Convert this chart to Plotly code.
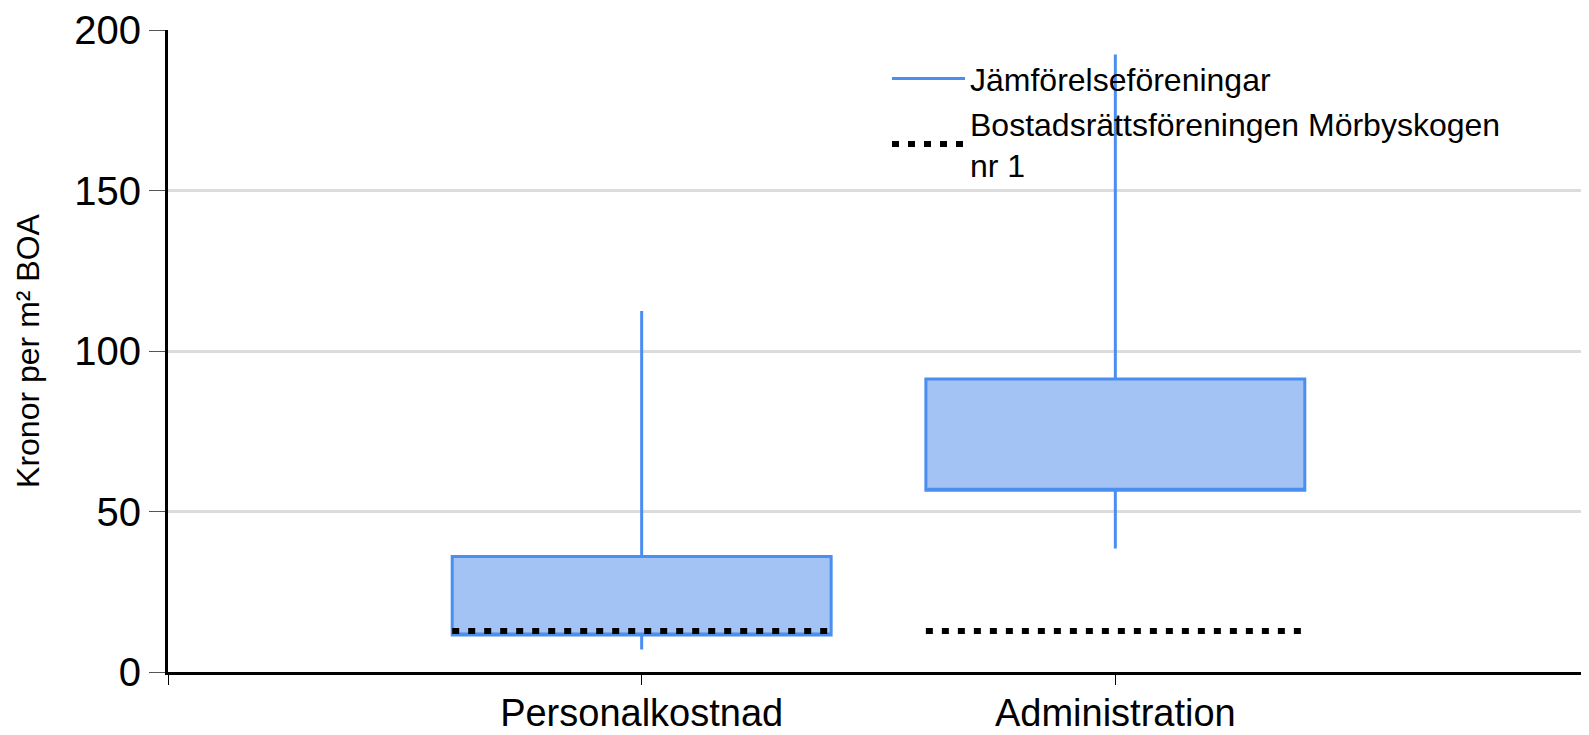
import plotly.graph_objects as go

categories = ["Personalkostnad", "Administration"]
lower_whisker = [7.0, 38.5]
q1_values = [11.5, 56.6]
q3_values = [36.0, 91.3]
upper_whisker = [112.5, 192.4]
association_values = [12.8, 12.8]

series_compare = "Jämförelseföreningar"
series_assoc = "Bostadsrättsföreningen Mörbyskogen<br>nr 1"
y_title = "Kronor per m² BOA"
y_ticks = [0, 50, 100, 150, 200]

BOX_WIDTH = 0.8
BLUE = "#4a8ef0"
FILL = "#a3c3f4"
FONT = "Liberation Sans, Arial, sans-serif"

positions = list(range(len(categories)))

fig = go.Figure()

fig.add_trace(go.Box(
    x=positions,
    q1=q1_values,
    median=q1_values,
    q3=q3_values,
    lowerfence=lower_whisker,
    upperfence=upper_whisker,
    width=BOX_WIDTH,
    whiskerwidth=0,
    line=dict(color=BLUE, width=3),
    fillcolor=FILL,
    showlegend=False,
    hoverinfo="skip",
))

# association line across each box
for p, v in zip(positions, association_values):
    fig.add_trace(go.Scatter(
        x=[p - BOX_WIDTH / 2, p + BOX_WIDTH / 2],
        y=[v, v],
        mode="lines",
        line=dict(color="black", width=6, dash="7px,9px"),
        showlegend=False,
        hoverinfo="skip",
    ))

# legend entries
fig.add_trace(go.Scatter(
    x=[None], y=[None], mode="lines",
    line=dict(color=BLUE, width=3),
    name=series_compare,
))
fig.add_trace(go.Scatter(
    x=[None], y=[None], mode="lines",
    line=dict(color="black", width=6, dash="7px,9px"),
    name=series_assoc,
))

fig.update_layout(
    width=1581, height=727,
    margin=dict(l=160, r=0, t=22, b=63),
    paper_bgcolor="white",
    plot_bgcolor="white",
    font=dict(family=FONT, color="black"),
    legend=dict(
        x=0.506, y=0.967, xanchor="left", yanchor="top",
        bgcolor="rgba(0,0,0,0)",
        font=dict(size=32, family=FONT),
        itemwidth=73,
        tracegroupgap=0,
    ),
    xaxis=dict(
        range=[-1, 2],
        tickvals=[-1] + positions + [2],
        ticktext=[""] + categories + [""],
        showgrid=False,
        zeroline=False,
        automargin=False,
        showline=True, linecolor="black", linewidth=3,
        ticks="outside", ticklen=10, tickwidth=1, tickcolor="black",
        tickfont=dict(size=38, family=FONT),
        ticklabelstandoff=-5,
    ),
    yaxis=dict(
        range=[0, 200],
        tickvals=y_ticks,
        showgrid=True, gridcolor="#dcdcdc", gridwidth=3,
        zeroline=False,
        automargin=False,
        showline=True, linecolor="black", linewidth=3,
        ticks="outside", ticklen=16, tickwidth=1, tickcolor="#555555",
        tickfont=dict(size=40, family=FONT),
        title=dict(text=y_title, font=dict(size=32, family=FONT), standoff=26),
    ),
)

fig.write_html("out.html")
